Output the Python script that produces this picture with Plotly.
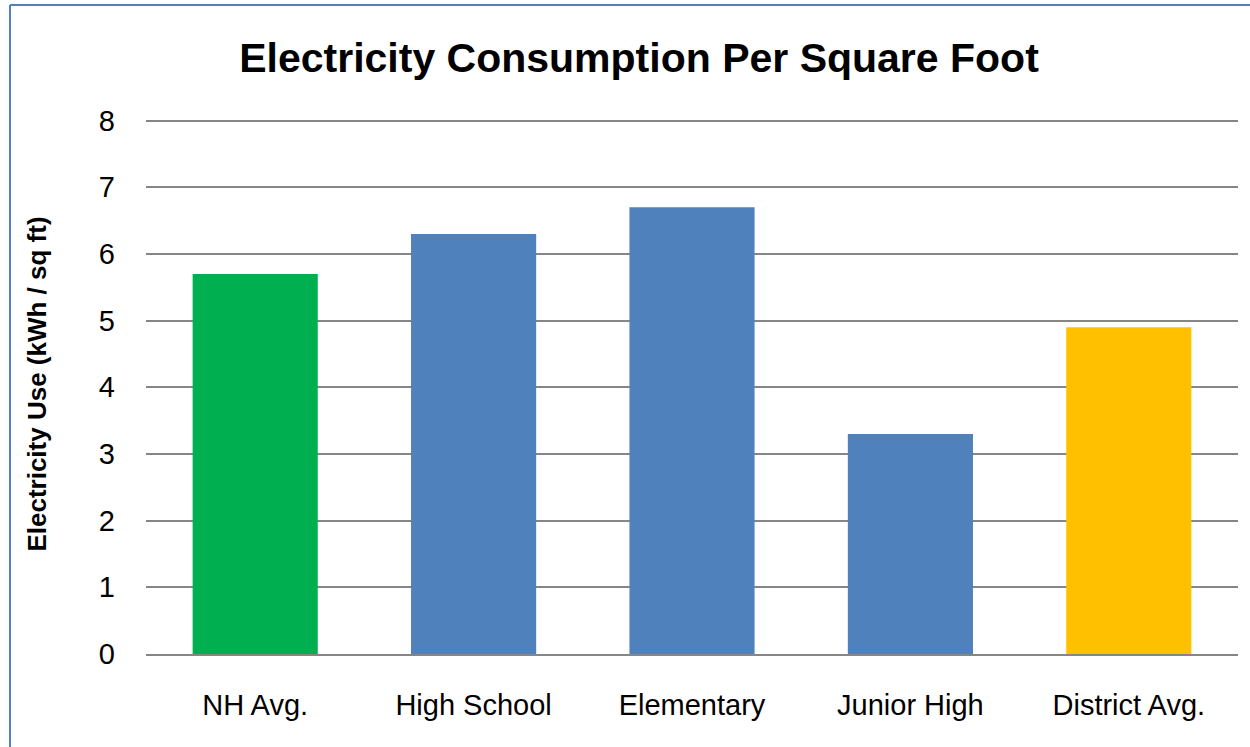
import plotly.graph_objects as go

categories = ["NH Avg.", "High School", "Elementary", "Junior High", "District Avg."]
values = [5.7, 6.3, 6.7, 3.3, 4.9]
colors = ["#00B050", "#4F81BD", "#4F81BD", "#4F81BD", "#FFC000"]
y_ticks = [0, 1, 2, 3, 4, 5, 6, 7, 8]

W, H = 1250, 747
y_top = 8.1
L, R, T, B = 146, 12, 114, 93
pw, ph = W - L - R, H - T - B

fig = go.Figure(go.Bar(x=categories, y=values, marker=dict(color=colors, line=dict(width=0)),
                       width=0.573))

font = "Liberation Sans"
bx0 = (10 - L) / pw
by1 = 1 + (T - 5) / ph
fig.update_layout(
    width=W, height=H,
    margin=dict(l=L, r=R, t=T, b=B, autoexpand=False),
    paper_bgcolor="white", plot_bgcolor="white",
    showlegend=False,
    title=dict(text="<b>Electricity Consumption Per Square Foot</b>",
               x=(639 - L) / pw, xref="paper", xanchor="center",
               y=1 - 58 / H, yanchor="middle",
               font=dict(family=font, size=41, color="black")),
    xaxis=dict(showgrid=False, showline=True, linecolor="#868686", linewidth=2,
               ticks="", tickfont=dict(family=font, size=29, color="black"),
               ticklabelstandoff=24, automargin=False),
    yaxis=dict(range=[0, y_top], tickvals=y_ticks, showgrid=True, gridcolor="#868686", gridwidth=1.5,
               zeroline=False, showline=False, ticks="",
               tickfont=dict(family=font, size=29, color="black"),
               ticklabelstandoff=30, automargin=False,
               title=dict(text="<b>Electricity Use (kWh / sq ft)</b>",
                          font=dict(family=font, size=26, color="black"), standoff=44)),
    shapes=[
        dict(type="line", xref="paper", yref="paper", x0=bx0, x1=1.5, y0=by1, y1=by1,
             line=dict(color="#4F81BD", width=2), layer="above"),
        dict(type="line", xref="paper", yref="paper", x0=bx0, x1=bx0, y0=-0.5, y1=by1,
             line=dict(color="#4F81BD", width=2), layer="above"),
    ],
)

fig.write_html("out.html", config={"displayModeBar": False},
               post_script="document.body.style.margin='0';document.body.style.padding='0';")
